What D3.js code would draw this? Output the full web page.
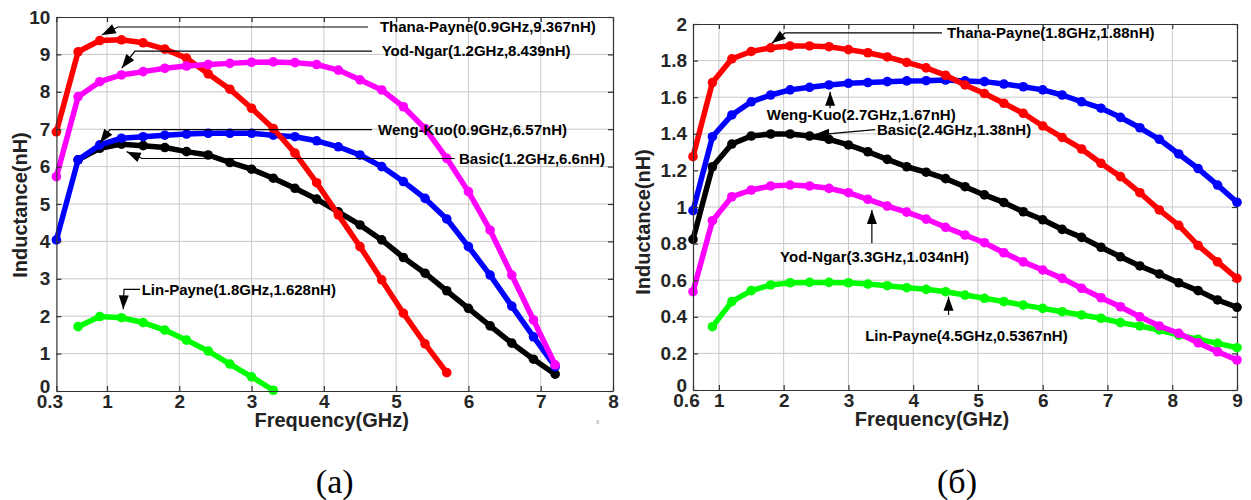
<!DOCTYPE html>
<html>
<head>
<meta charset="utf-8">
<script src="https://cdn.jsdelivr.net/npm/d3@7/dist/d3.min.js"></script>
<style>
  body { margin: 0; background: #fff; }
  svg { display: block; font-family: "Liberation Sans", Arial, sans-serif; }
</style>
</head>
<body>
<div id="chart"></div>
<script>
// ---- panel (a) data ----
const freqA = [0.3, 0.6, 0.9, 1.2, 1.5, 1.8, 2.1, 2.4, 2.7, 3.0, 3.3, 3.6, 3.9, 4.2, 4.5, 4.8, 5.1, 5.4, 5.7, 6.0, 6.3, 6.6, 6.9, 7.2];
const basicA = [6.18, 6.49, 6.60, 6.56, 6.51, 6.40, 6.31, 6.11, 5.93, 5.69, 5.42, 5.13, 4.79, 4.44, 4.04, 3.57, 3.15, 2.68, 2.21, 1.74, 1.28, 0.85, 0.45];
const wengA = [4.04, 6.18, 6.58, 6.76, 6.80, 6.84, 6.87, 6.89, 6.89, 6.89, 6.84, 6.80, 6.69, 6.53, 6.31, 6.00, 5.60, 5.15, 4.60, 3.86, 3.10, 2.27, 1.45, 0.65];
const thanaA = [6.93, 9.07, 9.37, 9.39, 9.31, 9.14, 8.90, 8.48, 8.07, 7.56, 7.02, 6.36, 5.57, 4.71, 3.86, 2.97, 2.08, 1.26, 0.49];
const yodA = [5.73, 7.87, 8.27, 8.45, 8.54, 8.63, 8.69, 8.73, 8.76, 8.79, 8.80, 8.78, 8.73, 8.58, 8.32, 8.05, 7.60, 7.02, 6.22, 5.33, 4.30, 3.10, 1.90, 0.70];
const linA = [1.72, 1.99, 1.96, 1.83, 1.63, 1.36, 1.07, 0.72, 0.38, 0.02];
const xTicksA = [0.3, 1, 2, 3, 4, 5, 6, 7, 8];
const yTicksA = [0, 1, 2, 3, 4, 5, 6, 7, 8, 9, 10];

// ---- panel (б) data ----
const freqB = [0.6, 0.9, 1.2, 1.5, 1.8, 2.1, 2.4, 2.7, 3.0, 3.3, 3.6, 3.9, 4.2, 4.5, 4.8, 5.1, 5.4, 5.7, 6.0, 6.3, 6.6, 6.9, 7.2, 7.5, 7.8, 8.1, 8.4, 8.7, 9.0];
const wengB = [0.98, 1.384, 1.503, 1.575, 1.612, 1.64, 1.654, 1.667, 1.676, 1.68, 1.685, 1.689, 1.69, 1.694, 1.689, 1.685, 1.672, 1.657, 1.64, 1.612, 1.575, 1.54, 1.49, 1.433, 1.37, 1.29, 1.21, 1.12, 1.026];
const basicB = [0.823, 1.22, 1.344, 1.388, 1.399, 1.399, 1.388, 1.37, 1.339, 1.302, 1.26, 1.22, 1.19, 1.155, 1.111, 1.066, 1.025, 0.974, 0.93, 0.878, 0.834, 0.78, 0.728, 0.678, 0.634, 0.586, 0.543, 0.492, 0.452];
const thanaB = [1.275, 1.68, 1.81, 1.85, 1.87, 1.88, 1.88, 1.876, 1.86, 1.843, 1.82, 1.79, 1.76, 1.72, 1.667, 1.62, 1.567, 1.512, 1.443, 1.38, 1.317, 1.239, 1.166, 1.078, 0.984, 0.90, 0.79, 0.70, 0.61];
const yodB = [0.537, 0.925, 1.056, 1.093, 1.115, 1.12, 1.115, 1.102, 1.078, 1.042, 1.005, 0.972, 0.934, 0.889, 0.847, 0.805, 0.75, 0.70, 0.656, 0.61, 0.556, 0.504, 0.455, 0.40, 0.35, 0.31, 0.258, 0.209, 0.164];
const linB = [0.346, 0.483, 0.543, 0.574, 0.586, 0.588, 0.588, 0.586, 0.579, 0.57, 0.559, 0.55, 0.537, 0.519, 0.501, 0.483, 0.464, 0.446, 0.428, 0.41, 0.392, 0.368, 0.35, 0.328, 0.30, 0.277, 0.255, 0.231];
const xTicksB = [0.6, 1, 2, 3, 4, 5, 6, 7, 8, 9];
const yTicksB = [0, 0.2, 0.4, 0.6, 0.8, 1, 1.2, 1.4, 1.6, 1.8, 2];

// annotations: tip / tail of the arrow, optional leader end, text start (data units)
const notesA = [
  { label: "Thana-Payne(0.9GHz,9.367nH)", tip: [0.927, 9.52], tail: [1.152, 9.733], lineEnd: 4.61, text: [4.776, 9.733] },
  { label: "Yod-Ngar(1.2GHz,8.439nH)", tip: [1.203, 8.63], tail: [1.387, 9.09], lineEnd: 4.665, text: [4.80, 9.09] },
  { label: "Weng-Kuo(0.9GHz,6.57nH)", tip: [0.903, 6.63], tail: [1.04, 6.99], lineEnd: 4.665, text: [4.75, 6.99] },
  { label: "Basic(1.2GHz,6.6nH)", tip: [1.272, 6.40], tail: [1.484, 6.217], lineEnd: 5.81, text: [5.87, 6.217] },
  { label: "Lin-Payne(1.8GHz,1.628nH)", tip: [1.225, 2.184], tail: [1.235, 2.719], lineEnd: 1.456, text: [1.48, 2.719] }
];
const notesB = [
  { label: "Thana-Payne(1.8GHz,1.88nH)", tip: [1.816, 1.895], tail: [2.022, 1.951], lineEnd: 4.444, text: [4.521, 1.951] },
  { label: "Weng-Kuo(2.7GHz,1.67nH)", tip: [2.717, 1.630], tail: [2.717, 1.540], lineEnd: null, text: [1.739, 1.503] },
  { label: "Basic(2.4GHz,1.38nH)", tip: [2.486, 1.397], tail: [2.764, 1.402], lineEnd: 3.413, text: [3.44, 1.423] },
  { label: "Yod-Ngar(3.3GHz,1.034nH)", tip: [3.362, 0.984], tail: [3.362, 0.802], lineEnd: null, text: [1.945, 0.728] },
  { label: "Lin-Payne(4.5GHz,0.5367nH)", tip: [4.546, 0.51], tail: [4.546, 0.41], lineEnd: null, text: [3.258, 0.30] }
];

const COLORS = { basic: "#000000", weng: "#0000ff", thana: "#ff0000", yod: "#ff00ff", lin: "#00ff00" };

const panels = [
  {
    box: { left: 56.4, top: 17, right: 613, bottom: 391 },
    freq: freqA, xDomain: [0.3, 8], yDomain: [0, 10], xTicks: xTicksA, yTicks: yTicksA,
    series: [
      { values: basicA, start: 1, color: COLORS.basic },
      { values: wengA, start: 0, color: COLORS.weng },
      { values: thanaA, start: 0, color: COLORS.thana },
      { values: yodA, start: 0, color: COLORS.yod },
      { values: linA, start: 1, color: COLORS.lin }
    ],
    notes: notesA, yLabelX: -29, yLabelShift: 1, xLabelShift: -3,
    caption: "(a)", captionShift: 0
  },
  {
    box: { left: 693, top: 24, right: 1237, bottom: 390 },
    freq: freqB, xDomain: [0.6, 9], yDomain: [0, 2], xTicks: xTicksB, yTicks: yTicksB,
    series: [
      { values: basicB, start: 0, color: COLORS.basic },
      { values: wengB, start: 0, color: COLORS.weng },
      { values: thanaB, start: 0, color: COLORS.thana },
      { values: linB, start: 1, color: COLORS.lin },
      { values: yodB, start: 0, color: COLORS.yod }
    ],
    notes: notesB, yLabelX: -43, yLabelShift: 15, xLabelShift: -33,
    caption: "(б)", captionShift: -8
  }
];

const svg = d3.select("#chart").append("svg").attr("width", 1251).attr("height", 500);
const fmtTick = d => String(d);

function styleAxis(sel) {
  sel.select(".domain").attr("stroke", "#333").attr("stroke-width", 1.2);
  sel.selectAll(".tick line").attr("stroke", "#333").attr("stroke-width", 1.2);
  sel.selectAll(".tick text")
    .attr("font-family", "'Liberation Sans', Arial, sans-serif")
    .attr("font-size", 19).attr("font-weight", "bold").attr("fill", "#262626");
}

function drawNote(g, x, y, n) {
  const tip = [x(n.tip[0]), y(n.tip[1])];
  const tail = [x(n.tail[0]), y(n.tail[1])];
  const tx = x(n.text[0]), ty = y(n.text[1]);
  const pts = [tip, tail];
  if (n.lineEnd != null) pts.push([x(n.lineEnd), ty]);
  g.append("path").attr("d", d3.line()(pts))
    .attr("fill", "none").attr("stroke", "#000").attr("stroke-width", 1.2);
  // arrow head
  const dx = tip[0] - tail[0], dy = tip[1] - tail[1];
  const len = Math.hypot(dx, dy);
  const ux = dx / len, uy = dy / len;
  const L = 14, W = 5;
  const bx = tip[0] - ux * L, by = tip[1] - uy * L;
  g.append("path")
    .attr("d", `M${tip[0]},${tip[1]}L${bx - uy * W},${by + ux * W}L${bx + uy * W},${by - ux * W}Z`)
    .attr("fill", "#000");
  g.append("text").attr("x", tx).attr("y", ty).attr("dy", "0.36em")
    .attr("font-size", 15).attr("font-weight", "bold").attr("fill", "#000")
    .text(n.label);
}

function drawPanel(p) {
  const w = p.box.right - p.box.left;
  const h = p.box.bottom - p.box.top;
  const g = svg.append("g").attr("transform", `translate(${p.box.left},${p.box.top})`);
  const x = d3.scaleLinear().domain(p.xDomain).range([0, w]);
  const y = d3.scaleLinear().domain(p.yDomain).range([h, 0]);

  // grid
  const grid = g.append("g").attr("stroke", "#c8c8c8").attr("stroke-width", 1);
  grid.selectAll("line.gx").data(p.xTicks.filter(t => t > p.xDomain[0] && t < p.xDomain[1]))
    .join("line").attr("class", "gx")
    .attr("x1", d => x(d)).attr("x2", d => x(d)).attr("y1", 0).attr("y2", h);
  grid.selectAll("line.gy").data(p.yTicks.filter(t => t > p.yDomain[0] && t < p.yDomain[1]))
    .join("line").attr("class", "gy")
    .attr("x1", 0).attr("x2", w).attr("y1", d => y(d)).attr("y2", d => y(d));

  // frame ticks on top/right
  g.append("g").call(d3.axisTop(x).tickValues(p.xTicks).tickSizeInner(-5).tickSizeOuter(0).tickFormat(""))
    .call(styleAxis);
  g.append("g").attr("transform", `translate(${w},0)`)
    .call(d3.axisRight(y).tickValues(p.yTicks).tickSizeInner(-5).tickSizeOuter(0).tickFormat(""))
    .call(styleAxis);

  // series
  const line = d3.line().x(d => x(d[0])).y(d => y(d[1]));
  p.series.forEach(s => {
    const pts = s.values.map((v, i) => [p.freq[s.start + i], v]);
    g.append("path").datum(pts).attr("d", line)
      .attr("fill", "none").attr("stroke", s.color).attr("stroke-width", 5.5)
      .attr("stroke-linejoin", "round").attr("stroke-linecap", "round");
    g.append("g").selectAll("circle").data(pts).join("circle")
      .attr("cx", d => x(d[0])).attr("cy", d => y(d[1])).attr("r", 4.8)
      .attr("fill", s.color);
  });

  // axes
  const gx = g.append("g").attr("transform", `translate(0,${h})`)
    .call(d3.axisBottom(x).tickValues(p.xTicks).tickFormat(fmtTick)
      .tickSizeInner(-5).tickSizeOuter(0).tickPadding(3))
    .call(styleAxis);
  gx.selectAll(".tick text").filter((d, i) => i === 0).attr("dx", -7);

  const gy = g.append("g")
    .call(d3.axisLeft(y).tickValues(p.yTicks).tickFormat(fmtTick)
      .tickSizeInner(-5).tickSizeOuter(0).tickPadding(6))
    .call(styleAxis);
  gy.selectAll(".tick text").filter((d, i) => i === 0).attr("transform", "translate(0,-5)");

  // labels
  g.append("text")
    .attr("transform", `translate(${p.yLabelX},${h / 2 + p.yLabelShift}) rotate(-90)`)
    .attr("text-anchor", "middle").attr("font-size", 20).attr("font-weight", "bold")
    .attr("fill", "#222").text("Inductance(nH)");
  g.append("text")
    .attr("x", w / 2 + p.xLabelShift).attr("y", h + 36)
    .attr("text-anchor", "middle").attr("font-size", 20).attr("font-weight", "bold")
    .attr("fill", "#222").text("Frequency(GHz)");

  // annotations
  const gn = g.append("g");
  p.notes.forEach(n => drawNote(gn, x, y, n));

  // caption
  svg.append("text")
    .attr("x", p.box.left + w / 2 + p.captionShift).attr("y", 493)
    .attr("text-anchor", "middle")
    .attr("font-family", "'Liberation Serif', 'Times New Roman', serif")
    .attr("font-size", 34).attr("fill", "#000")
    .text(p.caption);

  return { g, x, y, h };
}

const left = drawPanel(panels[0]);
drawPanel(panels[1]);

// stray mark in the source figure
left.g.append("text").attr("x", left.x(7.79)).attr("y", left.h + 33)
  .attr("text-anchor", "middle").attr("font-size", 7).attr("fill", "#999").text("x");
</script>
</body>
</html>
